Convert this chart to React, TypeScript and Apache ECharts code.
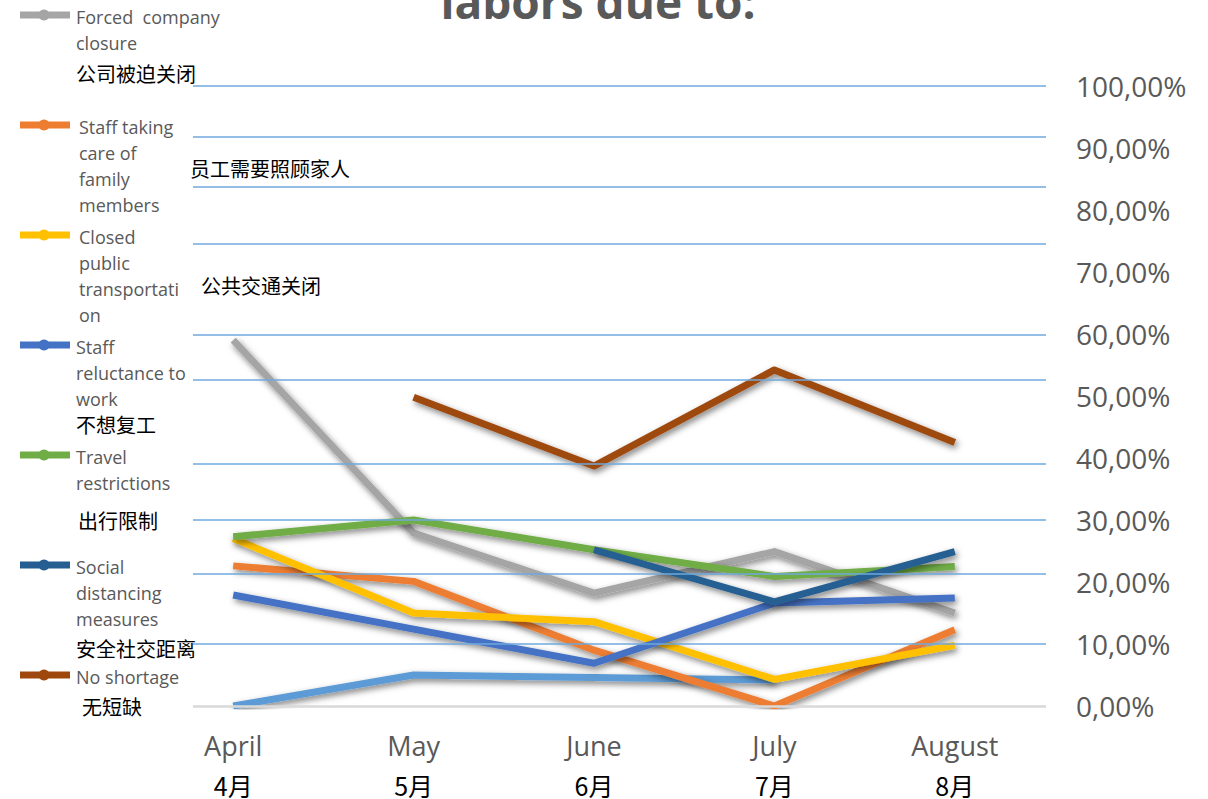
import React, { useEffect, useRef } from "react";
import * as echarts from "echarts";

// ---- data ----
const months = ["April", "May", "June", "July", "August"];
const monthsCn = ["4月", "5月", "6月", "7月", "8月"];

const seriesNames = [
  "Forced company closure",
  "Staff taking care of family members",
  "Closed public transportation",
  "Staff reluctance to work",
  "Travel restrictions",
  "Social distancing measures",
  "No shortage",
];
const legendLines = [
  "Forced  company\nclosure",
  "Staff taking\ncare of\nfamily\nmembers",
  "Closed\npublic\ntransportati\non",
  "Staff\nreluctance to\nwork",
  "Travel\nrestrictions",
  "Social\ndistancing\nmeasures",
  "No shortage",
];
const cnNames = ["公司被迫关闭", "员工需要照顾家人", "公共交通关闭", "不想复工", "出行限制", "安全社交距离", "无短缺"];

const otherVals = [0, 5.0, 4.6, 4.2, null];
const forcedClosure = [59.0, 27.9, 18.2, 24.9, 15.0];
const familyCare = [22.6, 20.1, 9.0, 0, 12.3];
const closedTransport = [27.0, 15.0, 13.6, 4.3, 9.8];
const reluctance = [17.9, 12.4, 6.9, 16.6, 17.4];
const travel = [27.3, 30.0, 25.2, 20.9, 22.5];
const distancing = [null, null, 25.2, 16.8, 24.9];
const noShortage = [null, 49.8, 38.7, 54.2, 42.5];

const gridLevels = [100, 91.8, 83.8, 74.5, 59.9, 52.7, 39.1, 30, 21.3, 10, 0];

// ---- styles ----
const colors = ["#A5A5A5", "#ED7D31", "#FFC000", "#4472C4", "#70AD47", "#255E91", "#9E480E"];
const otherColor = "#5B9BD5";
const cnPos = [
  [76, 73],
  [190, 168],
  [201, 285],
  [76, 424],
  [78, 520],
  [76, 648],
  [82, 706],
];

export default function App() {
  const ref = useRef<HTMLDivElement>(null);
  useEffect(() => {
    if (!ref.current) return;
    const chart = echarts.init(ref.current, undefined, { renderer: "svg" });
    const values = [forcedClosure, familyCare, closedTransport, reluctance, travel, distancing, noShortage];
    const shadow = {
      shadowColor: "rgba(0,0,0,0.5)",
      shadowBlur: 6,
      shadowOffsetX: 2,
      shadowOffsetY: 3,
    };
    const mkLine = (name: string, data: (number | null)[], color: string) => ({
      name,
      type: "line",
      xAxisIndex: 1,
      yAxisIndex: 1,
      data,
      symbol: "none",
      connectNulls: false,
      z: 3,
      lineStyle: { color, width: 7, join: "round", ...shadow },
      itemStyle: { color },
    });

    const legendGraphics: any[] = [];
    seriesNames.forEach((_, i) => {
      const y = 15 + i * 110;
      legendGraphics.push({
        type: "line",
        shape: { x1: 20, y1: y, x2: 70, y2: y },
        style: { stroke: colors[i], lineWidth: 7 },
      });
      legendGraphics.push({
        type: "circle",
        shape: { cx: 44, cy: y, r: 5.5 },
        style: { fill: colors[i] },
      });
      legendGraphics.push({
        type: "text",
        x: i === 1 || i === 2 ? 79 : 76,
        y: y - 11,
        style: {
          text: legendLines[i],
          fill: "#595959",
          fontSize: 18,
          lineHeight: 26,
          fontFamily: "Open Sans",
          verticalAlign: "top",
        },
      });
      legendGraphics.push({
        type: "text",
        x: cnPos[i][0],
        y: cnPos[i][1],
        style: {
          text: cnNames[i],
          fill: "#000",
          fontSize: 20,
          fontFamily: "Noto Sans CJK SC",
          verticalAlign: "middle",
        },
      });
    });

    chart.setOption({
      animation: false,
      backgroundColor: "#fff",
      grid: [
        { left: 193, right: 162, top: 86, height: 620 },
        { left: 143, right: 163, top: 86, height: 620 },
      ],
      xAxis: [
        { type: "value", gridIndex: 0, min: 0, max: 1, show: false },
        {
          type: "category",
          gridIndex: 1,
          data: months,
          boundaryGap: true,
          axisLine: { show: false },
          axisTick: { show: false },
          axisLabel: {
            margin: 13,
            formatter: (v: string, idx: number) => `{en|${v}}\n{cn|${monthsCn[idx]}}`,
            rich: {
              en: { fontSize: 27, color: "#595959", fontFamily: "Open Sans", lineHeight: 52 },
              cn: { fontSize: 25, color: "#000", fontFamily: "Noto Sans CJK SC", lineHeight: 28 },
            },
          },
        },
      ],
      yAxis: [
        { type: "value", gridIndex: 0, min: 0, max: 100, show: false },
        {
          type: "value",
          gridIndex: 1,
          min: 0,
          max: 100,
          interval: 10,
          position: "right",
          axisLine: { show: false },
          axisTick: { show: false },
          splitLine: { show: false },
          axisLabel: {
            margin: 31,
            align: "left",
            fontSize: 28,
            color: "#595959",
            fontFamily: "Open Sans",
            padding: [0, 0, 4, 0],
            formatter: (v: number) => v.toFixed(2).replace(".", ",") + "%",
          },
        },
      ],
      series: [
        {
          name: "grid",
          type: "line",
          xAxisIndex: 0,
          yAxisIndex: 0,
          data: [],
          silent: true,
          z: 1,
          markLine: {
            silent: true,
            symbol: "none",
            label: { show: false },
            data: gridLevels.map((v) => ({
              yAxis: v,
              lineStyle: { color: v === 0 ? "#d9d9d9" : "#6FA8DC", width: v === 0 ? 2.5 : 1.6, type: "solid" },
            })),
          },
        },
        mkLine("Other", otherVals, otherColor),
        ...seriesNames.map((n, i) => mkLine(n, values[i], colors[i])),
      ],
      graphic: [
        {
          type: "text",
          x: 598,
          y: 1,
          style: {
            text: "labors due to:",
            fill: "#595959",
            fontSize: 46,
            fontWeight: "bold",
            fontFamily: "Open Sans",
            align: "center",
            verticalAlign: "middle",
          },
        },
        ...legendGraphics,
      ],
    });
    return () => chart.dispose();
  }, []);
  return <div ref={ref} style={{ position: "fixed", left: 0, top: 0, width: 1208, height: 799 }} />;
}
